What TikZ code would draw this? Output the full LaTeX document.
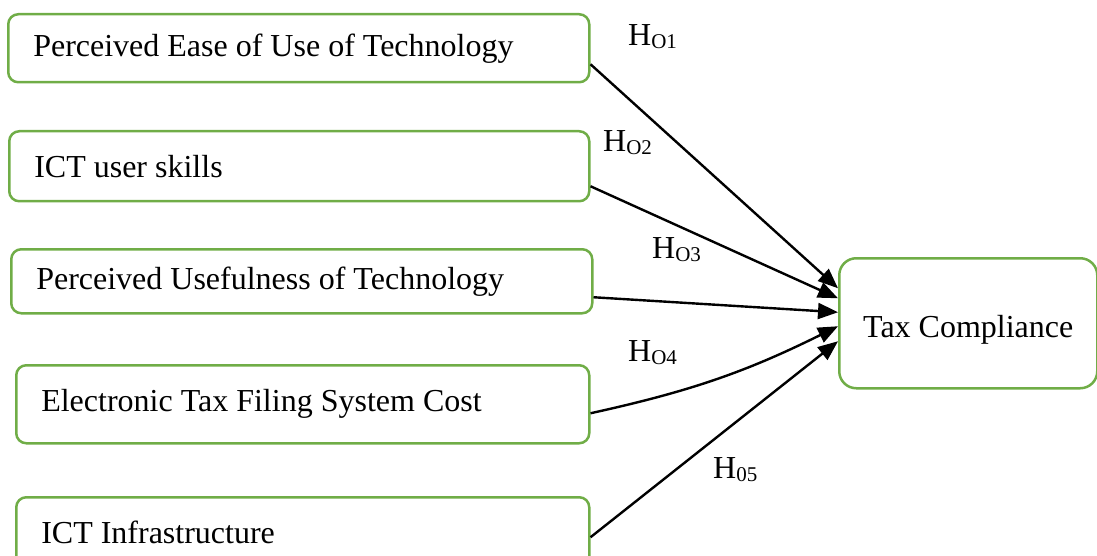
\documentclass[tikz,border=0pt]{standalone}
\usepackage{fontspec}
\setmainfont{Liberation Serif}
\usetikzlibrary{arrows.meta,calc}

\definecolor{boxgreen}{RGB}{112,173,71}

% hypothesis label: H with a lowered small index
\newcommand{\hyplabel}[1]{H\raisebox{-3pt}{\fontsize{21}{21}\selectfont #1}}

\tikzset{
  factor/.style={draw=boxgreen, line width=2.5pt, rounded corners=10pt,
    anchor=north west, align=flush left, inner xsep=25pt, inner ysep=0pt,
    font=\fontsize{32}{38}\selectfont},
  outcome/.style={draw=boxgreen, line width=2.5pt, rounded corners=17pt,
    anchor=north west, minimum width=258pt, minimum height=130pt,
    text height=36pt, text depth=7pt,
    font=\fontsize{32}{38}\selectfont},
  link/.style={line width=2.4pt, -{Triangle[length=20pt,width=16pt]}},
  hyp/.style={anchor=west, inner sep=0pt, font=\fontsize{32}{38}\selectfont}
}

\begin{document}
\begin{tikzpicture}[x=1pt,y=-1pt]

\useasboundingbox (0,0) rectangle (1097,556);

% independent variables
\node[factor, text width=531pt, minimum height=68pt] (b1) at (7,13) {Perceived Ease of Use of Technology};
\node[factor, text width=530pt, minimum height=70pt] (b2) at (8,130) {ICT user skills};
\node[factor, text width=531pt, minimum height=64pt] (b3) at (10,248) {Perceived Usefulness of Technology};
\node[factor, text width=523pt, minimum height=78pt] (b4) at (15,364) {Electronic Tax Filing System Cost};
\node[factor, text width=523pt, minimum height=70pt] (b5) at (15,496) {ICT Infrastructure};

% dependent variable
\node[outcome] (tc) at (838,257) {Tax Compliance};

% paths
\foreach \src/\s/\t in {b1/-16/35, b2/-20/25, b3/-16/11, b5/-5/-18}
{
    \draw[link] ([yshift=\s pt]\src.east) -- ([yshift=\t pt]tc.west);
}
\draw[link] ([yshift=-9pt]b4.east) to[bend right=7] ([yshift=-3pt]tc.west);

% hypotheses
\node[hyp] (h1) at (628,37) {\hyplabel{O1}};
\node[hyp] (h2) at (603,143) {\hyplabel{O2}};
\node[hyp] (h3) at (652,250) {\hyplabel{O3}};
\node[hyp] (h4) at (628,353) {\hyplabel{O4}};
\node[hyp] (h5) at (713,470) {\hyplabel{05}};

\end{tikzpicture}
\end{document}
